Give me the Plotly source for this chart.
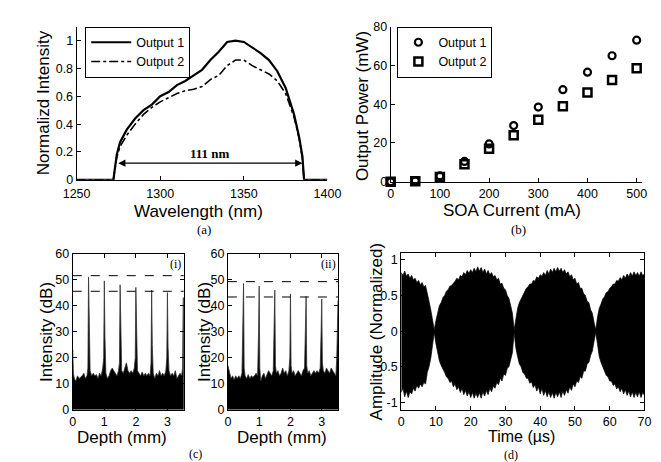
import plotly.graph_objects as go

# (a) spectrum
wl1 = [1250, 1260, 1270, 1272, 1274, 1276, 1280, 1285, 1290, 1295, 1300, 1305, 1310, 1315, 1320,
       1325, 1330, 1335, 1340, 1345, 1350, 1355, 1360, 1365, 1370, 1375, 1380, 1383, 1385, 1386, 1390, 1400]
out1 = [0, 0, 0, 0, 0.18, 0.27, 0.36, 0.44, 0.50, 0.54, 0.60, 0.63, 0.68, 0.71, 0.75,
        0.79, 0.86, 0.92, 0.99, 1.0, 0.99, 0.95, 0.91, 0.86, 0.78, 0.66, 0.47, 0.31, 0.17, 0, 0, 0]
out2 = [0, 0, 0, 0, 0.16, 0.24, 0.32, 0.40, 0.47, 0.52, 0.56, 0.59, 0.62, 0.64, 0.65,
        0.67, 0.72, 0.75, 0.82, 0.86, 0.86, 0.82, 0.79, 0.76, 0.71, 0.62, 0.45, 0.30, 0.15, 0, 0, 0]
span_nm = [1274, 1385]
span_y = 0.12

# (b) power vs current
current = [0, 50, 100, 150, 200, 250, 300, 350, 400, 450, 500]
pow1 = [0, 0.5, 3, 10.5, 19.5, 29, 38.5, 47.5, 56.5, 65, 73]
pow2 = [0, 0.3, 2.5, 9, 17, 24, 32, 39, 46, 52.5, 58.5]

# (c) A-scans
depth_i = [0, 0.02, 0.05, 0.1, 0.15, 0.2, 0.25, 0.3, 0.35, 0.4, 0.45, 0.48, 0.5, 0.52, 0.55, 0.6, 0.65, 0.7,
           0.75, 0.8, 0.85, 0.9, 0.95, 0.98, 1.0, 1.02, 1.05, 1.1, 1.15, 1.2, 1.25, 1.3, 1.35, 1.4, 1.45,
           1.48, 1.5, 1.52, 1.55, 1.6, 1.65, 1.7, 1.75, 1.8, 1.85, 1.9, 1.95, 1.98, 2.0, 2.02, 2.05, 2.1,
           2.15, 2.2, 2.25, 2.3, 2.35, 2.4, 2.45, 2.48, 2.5, 2.52, 2.55, 2.6, 2.65, 2.7, 2.75, 2.8, 2.85,
           2.9, 2.95, 2.98, 3.0, 3.02, 3.05, 3.1, 3.15, 3.2, 3.25, 3.3, 3.35, 3.4, 3.45, 3.48, 3.5, 3.52]
db_i = [23, 14, 12, 11, 13, 12, 12.5, 13, 14, 12, 13, 16, 51, 30, 15, 13, 14, 13,
        13.5, 12, 14, 13, 16, 20, 49.5, 28, 14, 12, 13, 15, 16, 15, 14, 13, 15,
        18, 48, 27, 15, 14, 16, 18, 15, 14, 15, 14, 16, 20, 47, 25, 15, 14,
        13, 14.5, 13, 14, 13, 14, 13, 18, 46, 25, 14, 12, 14, 13, 15, 13, 14,
        13, 15, 20, 45, 24, 15, 13, 14, 13, 15, 12, 13, 14, 13, 16, 43, 43]
depth_ii = [0, 0.05, 0.1, 0.15, 0.2, 0.25, 0.3, 0.35, 0.4, 0.45, 0.48, 0.5, 0.52, 0.55, 0.6, 0.65, 0.7,
            0.75, 0.8, 0.85, 0.9, 0.95, 0.98, 1.0, 1.02, 1.05, 1.1, 1.15, 1.2, 1.25, 1.3, 1.35, 1.4, 1.45,
            1.48, 1.5, 1.52, 1.55, 1.6, 1.65, 1.7, 1.75, 1.8, 1.85, 1.9, 1.95, 1.98, 2.0, 2.02, 2.05, 2.1,
            2.15, 2.2, 2.25, 2.3, 2.35, 2.4, 2.45, 2.48, 2.5, 2.52, 2.55, 2.6, 2.65, 2.7, 2.75, 2.8, 2.85,
            2.9, 2.95, 2.98, 3.0, 3.02, 3.05, 3.1, 3.15, 3.2, 3.25, 3.3, 3.35, 3.4, 3.45, 3.48, 3.52]
db_ii = [17, 14, 12, 13, 11.5, 13, 12, 13, 12, 14, 32, 48.5, 16, 13, 12, 13.5, 12,
         13, 12.5, 13, 14, 13, 30, 47.5, 16, 11, 13, 14, 12, 14, 15, 14, 13, 15,
         33, 46, 17, 14, 15, 13, 14, 16, 14, 15, 13, 15, 20, 44.5, 17, 14, 15,
         13, 14, 15, 14, 13, 15, 16, 32, 43.5, 17, 14, 15, 13, 14, 15, 14, 15,
         14, 16, 30, 42.5, 18, 15, 14, 16, 15, 14, 16, 15, 14, 13, 20, 42]
dash_i = [51.5, 45.5]
dash_ii = [49.2, 43.3]

# (d) interferogram envelope (ragged edges read at 0.5 us)
t_us = [0, 0.5, 1, 1.5, 2, 2.5, 3, 3.5, 4, 4.5, 5, 5.5, 6, 6.5, 7, 7.5, 8, 8.5, 9, 9.5,
        10, 10.5, 11, 11.5, 12, 12.5, 13, 13.5, 14, 14.5, 15, 15.5, 16, 16.5, 17, 17.5, 18, 18.5, 19, 19.5,
        20, 20.5, 21, 21.5, 22, 22.5, 23, 23.5, 24, 24.5, 25, 25.5, 26, 26.5, 27, 27.5, 28, 28.5, 29, 29.5,
        30, 30.5, 31, 31.5, 32, 32.5, 33, 33.5, 34, 34.5, 35, 35.5, 36, 36.5, 37, 37.5, 38, 38.5, 39, 39.5,
        40, 40.5, 41, 41.5, 42, 42.5, 43, 43.5, 44, 44.5, 45, 45.5, 46, 46.5, 47, 47.5, 48, 48.5, 49, 49.5,
        50, 50.5, 51, 51.5, 52, 52.5, 53, 53.5, 54, 54.5, 55, 55.5, 56, 56.5, 57, 57.5, 58, 58.5, 59, 59.5,
        60, 60.5, 61, 61.5, 62, 62.5, 63, 63.5, 64, 64.5, 65, 65.5, 66, 66.5, 67, 67.5, 68, 68.5, 69, 69.5,
        70]
env_top = [0.82, 0.78, 0.84, 0.77, 0.80, 0.74, 0.78, 0.72, 0.74, 0.68, 0.71, 0.65, 0.68, 0.62, 0.64, 0.50,
           0.42, 0.30, 0.18, 0.02,
           0.15, 0.28, 0.36, 0.40, 0.47, 0.50, 0.56, 0.58, 0.63, 0.64, 0.68, 0.70, 0.74, 0.72, 0.78, 0.76,
           0.82, 0.79, 0.85, 0.81,
           0.86, 0.82, 0.88, 0.83, 0.90, 0.84, 0.89, 0.82, 0.87, 0.80, 0.85, 0.79, 0.82, 0.76, 0.78, 0.72,
           0.74, 0.66, 0.67, 0.60,
           0.58, 0.50, 0.46, 0.36, 0.25, 0.02, 0.20, 0.32, 0.40, 0.45, 0.50, 0.55, 0.60, 0.62, 0.66, 0.66,
           0.71, 0.70, 0.76, 0.74,
           0.79, 0.77, 0.82, 0.78, 0.85, 0.80, 0.87, 0.82, 0.88, 0.83, 0.89, 0.84, 0.88, 0.82, 0.86, 0.80,
           0.83, 0.76, 0.79, 0.72,
           0.74, 0.66, 0.68, 0.60, 0.60, 0.52, 0.50, 0.42, 0.40, 0.30, 0.25, 0.12, 0.02, 0.20, 0.32, 0.38,
           0.45, 0.48, 0.54, 0.55,
           0.60, 0.62, 0.66, 0.66, 0.71, 0.70, 0.75, 0.72, 0.78, 0.74, 0.80, 0.76, 0.82, 0.77, 0.83, 0.78,
           0.82, 0.77, 0.83, 0.78,
           0.80]
env_bot = [-0.86, -0.80, -0.92, -0.84, -0.93, -0.85, -0.88, -0.80, -0.84, -0.76, -0.80, -0.74, -0.78, -0.72,
           -0.74, -0.58, -0.50, -0.38, -0.24, -0.02,
           -0.18, -0.32, -0.42, -0.48, -0.54, -0.58, -0.64, -0.66, -0.72, -0.70, -0.78, -0.74, -0.82, -0.78,
           -0.86, -0.80, -0.89, -0.83, -0.91, -0.85,
           -0.93, -0.86, -0.94, -0.87, -0.93, -0.86, -0.94, -0.85, -0.91, -0.83, -0.89, -0.80, -0.85, -0.77,
           -0.80, -0.72, -0.75, -0.66, -0.70, -0.60,
           -0.62, -0.52, -0.50, -0.40, -0.30, -0.02, -0.24, -0.36, -0.46, -0.50, -0.58, -0.60, -0.66, -0.66,
           -0.73, -0.71, -0.79, -0.75, -0.84, -0.78,
           -0.88, -0.80, -0.90, -0.83, -0.92, -0.85, -0.93, -0.86, -0.94, -0.86, -0.92, -0.85, -0.93, -0.84,
           -0.90, -0.82, -0.87, -0.78, -0.83, -0.74,
           -0.78, -0.70, -0.72, -0.64, -0.66, -0.56, -0.56, -0.46, -0.44, -0.34, -0.28, -0.14, -0.02, -0.22,
           -0.36, -0.44, -0.52, -0.56, -0.62, -0.64,
           -0.70, -0.70, -0.76, -0.74, -0.81, -0.78, -0.85, -0.80, -0.88, -0.82, -0.90, -0.84, -0.92, -0.85,
           -0.93, -0.86, -0.92, -0.85, -0.93, -0.86,
           -0.90]

W, H = 661, 462
SANS = "Liberation Sans, Arial, sans-serif"
SERIF = "Liberation Serif, Times New Roman, serif"


def dom_x(a, b):
    return [a / W, b / W]


def dom_y(top, bot):
    return [1 - bot / H, 1 - top / H]


def ax(domain, rng, tickvals, ticktext=None, mirror=False, anchor=None):
    d = dict(domain=domain, range=rng, tickvals=tickvals, showgrid=False, zeroline=False,
             showline=True, linecolor="black", linewidth=1, ticks="inside", ticklen=4,
             tickcolor="black", tickfont=dict(family=SANS, size=12.5, color="black"),
             mirror="ticks" if mirror else False, anchor=anchor)
    if ticktext is not None:
        d["ticktext"] = ticktext
    return d


fig = go.Figure()

# (a)
fig.add_trace(go.Scatter(x=wl1, y=out1, mode="lines", name="Output 1",
                         line=dict(color="black", width=2.2), xaxis="x", yaxis="y", legend="legend"))
fig.add_trace(go.Scatter(x=wl1, y=out2, mode="lines", name="Output 2",
                         line=dict(color="black", width=1.6, dash="dashdot"), xaxis="x", yaxis="y",
                         legend="legend"))

# (b)
fig.add_trace(go.Scatter(x=current, y=pow1, mode="markers", name="Output 1", cliponaxis=False,
                         marker=dict(symbol="circle-open", size=7, color="black", line=dict(width=2.2)),
                         xaxis="x2", yaxis="y2", legend="legend2"))
fig.add_trace(go.Scatter(x=current, y=pow2, mode="markers", name="Output 2", cliponaxis=False,
                         marker=dict(symbol="square-open", size=8, color="black", line=dict(width=2.5)),
                         xaxis="x2", yaxis="y2", legend="legend2"))

# (c)
fig.add_trace(go.Scatter(x=depth_i, y=db_i, mode="lines", fill="tozeroy", fillcolor="black",
                         line=dict(color="#333", width=0.8), showlegend=False, xaxis="x3", yaxis="y3"))
fig.add_trace(go.Scatter(x=depth_ii, y=db_ii, mode="lines", fill="tozeroy", fillcolor="black",
                         line=dict(color="#333", width=0.8), showlegend=False, xaxis="x4", yaxis="y4"))
for lvl in dash_i:
    fig.add_trace(go.Scatter(x=[0, 3.52], y=[lvl, lvl], mode="lines", showlegend=False,
                             line=dict(color="black", width=1, dash="dash"), xaxis="x3", yaxis="y3"))
for lvl in dash_ii:
    fig.add_trace(go.Scatter(x=[0, 3.52], y=[lvl, lvl], mode="lines", showlegend=False,
                             line=dict(color="black", width=1, dash="dash"), xaxis="x4", yaxis="y4"))

# (d)
fig.add_trace(go.Scatter(x=t_us + t_us[::-1], y=env_top + env_bot[::-1], mode="lines", fill="toself",
                         fillcolor="black", line=dict(color="black", width=0.7), showlegend=False,
                         xaxis="x5", yaxis="y5"))

xa = ax(dom_x(57, 319), [1250, 1400], [1250, 1300, 1350, 1400], anchor="y")
xa["ticklabelstandoff"] = 2

fig.update_layout(
    width=W, height=H, margin=dict(l=0, r=0, t=0, b=0),
    paper_bgcolor="white", plot_bgcolor="white",
    xaxis=xa,
    yaxis=ax(dom_y(12, 170), [0, 1.1], [0, 0.2, 0.4, 0.6, 0.8, 1],
             ["0", "0.2", "0.4", "0.6", "0.8", "1"], anchor="x"),
    xaxis2=ax(dom_x(385, 647), [0, 510], [0, 100, 200, 300, 400, 500], anchor="y2"),
    yaxis2=ax(dom_y(12, 172), [0, 80], [0, 20, 40, 60, 80], anchor="x2"),
    xaxis3=ax(dom_x(53, 169), [0, 3.52], [0, 1, 2, 3], mirror=True, anchor="y3"),
    yaxis3=ax(dom_y(246, 407), [0, 60], [0, 10, 20, 30, 40, 50, 60], mirror=True, anchor="x3"),
    xaxis4=ax(dom_x(215, 330), [0, 3.52], [0, 1, 2, 3], mirror=True, anchor="y4"),
    yaxis4=ax(dom_y(246, 407), [0, 60], [0, 10, 20, 30, 40, 50, 60], mirror=True, anchor="x4"),
    xaxis5=ax(dom_x(396, 650), [0, 70], [0, 10, 20, 30, 40, 50, 60, 70], mirror=True, anchor="y5"),
    yaxis5=ax(dom_y(245, 407), [-1.1, 1.1], [-1, -0.5, 0, 0.5, 1],
              ["-1", "-0.5", "0", "0.5", "1"], mirror=True, anchor="x5"),
    legend=dict(x=66 / W, y=1 - 12 / H, xanchor="left", yanchor="top", bgcolor="white",
                bordercolor="black", borderwidth=1, font=dict(family=SANS, size=12.5, color="black"),
                tracegroupgap=0, itemwidth=40),
    legend2=dict(x=392 / W, y=1 - 12 / H, xanchor="left", yanchor="top", bgcolor="white",
                 bordercolor="black", borderwidth=1, font=dict(family=SANS, size=12.5, color="black"),
                 tracegroupgap=0),
)

annots = []
# arrow across bandwidth
annots.append(dict(x=span_nm[1], y=span_y, ax=span_nm[0], ay=span_y, xref="x", yref="y",
                   axref="x", ayref="y", showarrow=True, arrowhead=2, arrowsize=1.2,
                   arrowwidth=1.2, arrowside="end+start", arrowcolor="black", text=""))
annots.append(dict(x=1330, y=0.19, xref="x", yref="y", text="<b>111 nm</b>", showarrow=False,
                   font=dict(family=SERIF, size=13, color="black")))
annots.append(dict(x=3.25, y=56, xref="x3", yref="y3", text="(i)", showarrow=False,
                   font=dict(family=SERIF, size=12, color="black")))
annots.append(dict(x=3.2, y=56, xref="x4", yref="y4", text="(ii)", showarrow=False,
                   font=dict(family=SERIF, size=12, color="black")))


def paper_text(txt, px, py, size=17, angle=0, family=SANS):
    annots.append(dict(x=px / W, y=1 - py / H, xref="paper", yref="paper", text=txt,
                       showarrow=False, textangle=angle, xanchor="center", yanchor="middle",
                       font=dict(family=family, size=size, color="black")))


paper_text("Normalizd Intensity", 22, 91, angle=-90)
paper_text("Wavelength (nm)", 184, 203)
paper_text("Output Power (mW)", 355, 94, angle=-90)
paper_text("SOA Current (mA)", 512, 202)
paper_text("Intensity (dB)", 25, 327, angle=-90)
paper_text("Depth (mm)", 104, 436)
paper_text("Intensity (dB)", 190, 327, angle=-90)
paper_text("Depth (mm)", 271, 436)
paper_text("Amplitude (Normalized)", 370, 326, angle=-90)
paper_text("Time (\u00b5s)", 522, 435, size=16)
paper_text("(a)", 190, 221, size=13, family=SERIF)
paper_text("(b)", 518, 221, size=13, family=SERIF)
paper_text("(c)", 181, 453, size=12, family=SERIF)
paper_text("(d)", 511, 454, size=12, family=SERIF)

fig.update_layout(annotations=annots)
fig.write_html("out.html")
